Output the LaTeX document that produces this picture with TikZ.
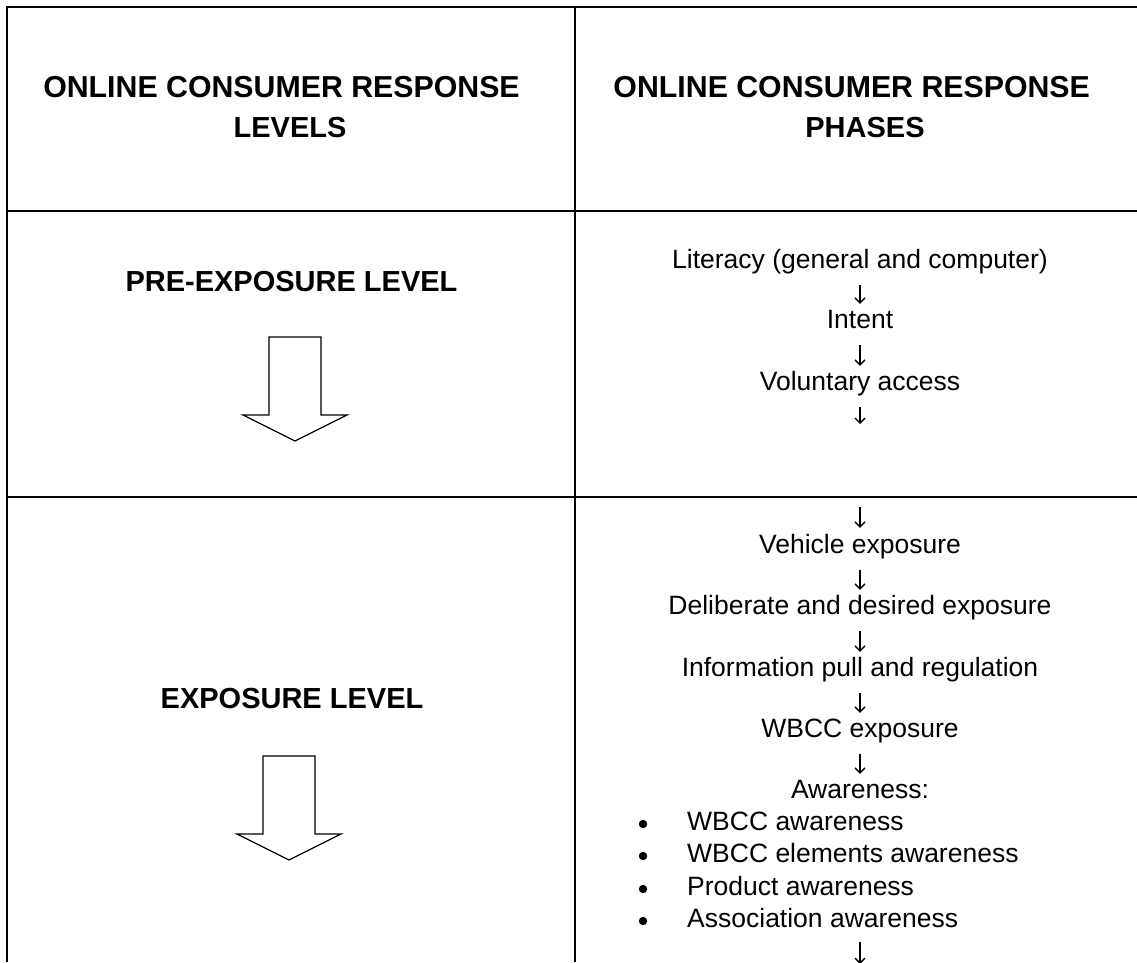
\documentclass[tikz,border=0pt]{standalone}
\usepackage{fontspec}
\setmainfont{Liberation Sans}
\usetikzlibrary{arrows.meta}
\tikzset{
  tableline/.style={line width=2pt},
  blockarrow/.style={line width=1.3pt, line join=miter, fill=white},
  headtext/.style={anchor=base, inner sep=0pt, font=\fontsize{30.3pt}{36pt}\selectfont\bfseries},
  leveltext/.style={anchor=base, inner sep=0pt, font=\fontsize{29pt}{34pt}\selectfont\bfseries},
  phasetext/.style={anchor=base, inner sep=0pt, text height=19pt, text depth=6pt, font=\fontsize{26.5pt}{30pt}\selectfont},
  itemtext/.style={anchor=base west, inner sep=0pt, text height=19pt, text depth=6pt, font=\fontsize{26.5pt}{30pt}\selectfont},
  bulletdot/.style={circle, fill=black, inner sep=0pt, minimum size=8.4pt},
  phasearrow/.style={line width=1.3pt, -{Straight Barb[length=5pt,width=10pt]}, shorten <=11pt, shorten >=5pt}
}
\begin{document}
\begin{tikzpicture}[x=1pt,y=-1pt]
\useasboundingbox (0,0) rectangle (1137,962);
% table rules
\draw[tableline] (7,7) -- (1137,7);
\draw[tableline] (7,211) -- (1137,211);
\draw[tableline] (7,497) -- (1137,497);
\draw[tableline] (7,6) -- (7,962);
\draw[tableline] (575,6) -- (575,962);
% header texts
\node[headtext] (h1a) at (281.5,97) {ONLINE CONSUMER RESPONSE};
\node[leveltext] (h1b) at (290,137) {LEVELS};
\node[headtext] (h2a) at (851.7,97) {ONLINE CONSUMER RESPONSE};
\node[leveltext] (h2b) at (865,137) {PHASES};
% levels
\node[leveltext] (pre) at (291.5,291) {PRE-EXPOSURE LEVEL};
\node[leveltext] (expo) at (292,708) {EXPOSURE LEVEL};
% block arrows
\draw[blockarrow] (269,337) -- (321,337) -- (321,415) -- (347,415) -- (295,441) -- (243,415) -- (269,415) -- cycle;
\draw[blockarrow] (263,756) -- (315,756) -- (315,834) -- (341,834) -- (289,860) -- (237,834) -- (263,834) -- cycle;
% phases, pre-exposure level
\node[phasetext] (lit) at (860,268) {Literacy (general and computer)};
\node[phasetext] (intent) at (860,328) {Intent};
\node[phasetext] (vol) at (860,390) {Voluntary access};
\coordinate (volend) at (860,424);
\draw[phasearrow] (lit) -- (intent);
\draw[phasearrow] (intent) -- (vol);
\draw[phasearrow, shorten >=0pt] (vol) -- (volend);
% phases, exposure level
\coordinate (vehstart) at (860,507);
\node[phasetext] (veh) at (860,553) {Vehicle exposure};
\node[phasetext] (delib) at (860,614) {Deliberate and desired exposure};
\node[phasetext] (info) at (860,676) {Information pull and regulation};
\node[phasetext] (wexp) at (860,737) {WBCC exposure};
\node[phasetext] (aware) at (860,798) {Awareness:};
\draw[phasearrow, shorten <=0pt, shorten >=6pt] (vehstart) -- (veh);
\draw[phasearrow] (veh) -- (delib);
\draw[phasearrow] (delib) -- (info);
\draw[phasearrow] (info) -- (wexp);
\draw[phasearrow] (wexp) -- (aware);
\node[itemtext] (b1) at (687,830) {WBCC awareness};
\node[itemtext] (b2) at (687,862) {WBCC elements awareness};
\node[itemtext] (b3) at (687,895) {Product awareness};
\node[itemtext] (b4) at (687,927) {Association awareness};
\node[bulletdot] (d1) at (643,824) {};
\node[bulletdot] (d2) at (643,856) {};
\node[bulletdot] (d3) at (643,889) {};
\node[bulletdot] (d4) at (643,921) {};
\coordinate (lastend) at (860,964);
\draw[phasearrow, shorten <=9pt, shorten >=0pt] (aware.center |- b4.south) -- (lastend);
\end{tikzpicture}
\end{document}
